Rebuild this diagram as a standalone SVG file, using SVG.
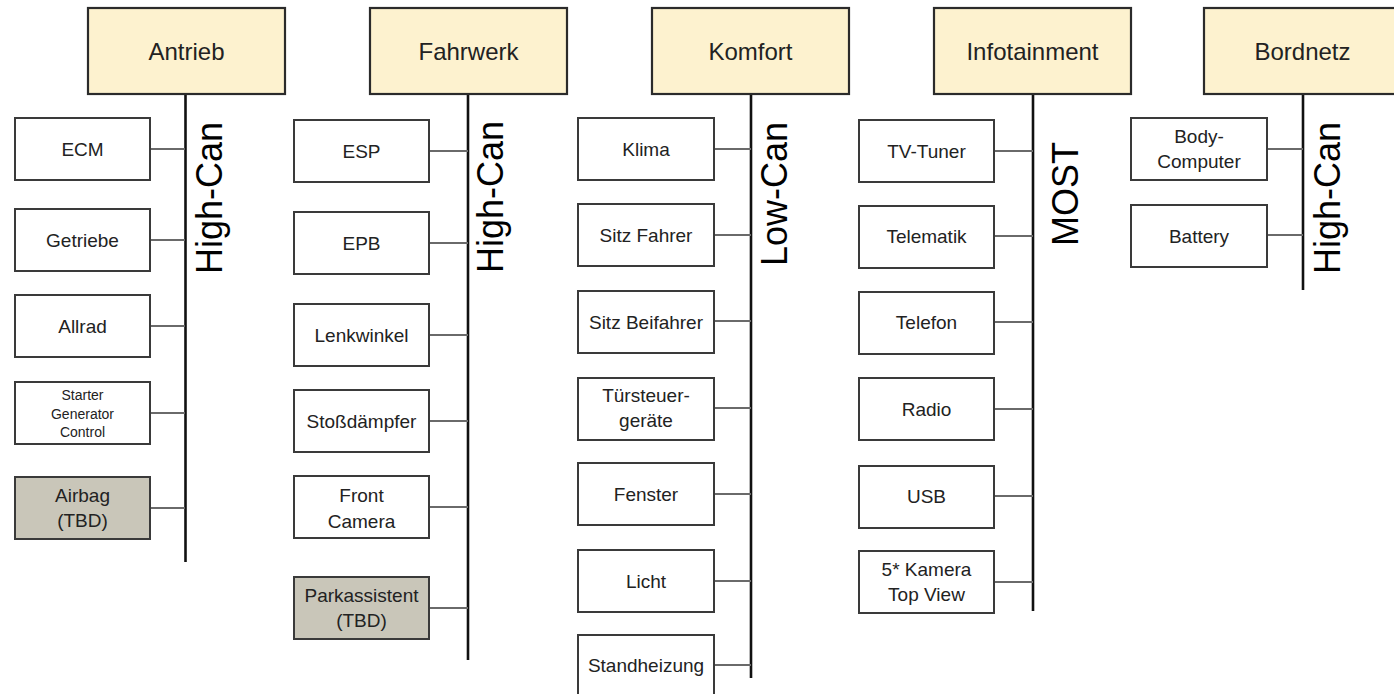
<svg xmlns="http://www.w3.org/2000/svg" width="1394" height="694" viewBox="0 0 1394 694">
<style>
.hdr{fill:#fdf2cf;stroke:#2b2b2b;stroke-width:2.2}
.nd{fill:#ffffff;stroke:#3a3a3a;stroke-width:2}
.tbd{fill:#c9c6b9;stroke:#3a3a3a;stroke-width:2}
.bus{stroke:#111;stroke-width:2.6;fill:none}
.con{stroke:#6a6a6a;stroke-width:2;fill:none}
text{font-family:"Liberation Sans",Arial,sans-serif;fill:#222;text-anchor:middle}
.ht{font-size:24px}
.nt{font-size:19px}
.st{font-size:14px}
.bl{font-size:36px;fill:#000}
</style>
<rect width="1394" height="694" fill="#ffffff"/>

<g id="connectors">
  <line class="bus" x1="185.5" y1="94" x2="185.5" y2="562"/>
  <line class="bus" x1="468" y1="94" x2="468" y2="660"/>
  <line class="bus" x1="751" y1="94" x2="751" y2="678"/>
  <line class="bus" x1="1033" y1="94" x2="1033" y2="611"/>
  <line class="bus" x1="1303" y1="94" x2="1303" y2="290"/>
  <!-- col1 -->
  <line class="con" x1="150" y1="149" x2="185" y2="149"/>
  <line class="con" x1="150" y1="240" x2="185" y2="240"/>
  <line class="con" x1="150" y1="326" x2="185" y2="326"/>
  <line class="con" x1="150" y1="413" x2="185" y2="413"/>
  <line class="con" x1="150" y1="508" x2="185" y2="508"/>
  <!-- col2 -->
  <line class="con" x1="429" y1="151" x2="468" y2="151"/>
  <line class="con" x1="429" y1="243" x2="468" y2="243"/>
  <line class="con" x1="429" y1="335" x2="468" y2="335"/>
  <line class="con" x1="429" y1="421" x2="468" y2="421"/>
  <line class="con" x1="429" y1="507" x2="468" y2="507"/>
  <line class="con" x1="429" y1="608" x2="468" y2="608"/>
  <!-- col3 -->
  <line class="con" x1="714" y1="149" x2="751" y2="149"/>
  <line class="con" x1="714" y1="235" x2="751" y2="235"/>
  <line class="con" x1="714" y1="321" x2="751" y2="321"/>
  <line class="con" x1="714" y1="408" x2="751" y2="408"/>
  <line class="con" x1="714" y1="494" x2="751" y2="494"/>
  <line class="con" x1="714" y1="581" x2="751" y2="581"/>
  <line class="con" x1="714" y1="665" x2="751" y2="665"/>
  <!-- col4 -->
  <line class="con" x1="994" y1="151" x2="1033" y2="151"/>
  <line class="con" x1="994" y1="236" x2="1033" y2="236"/>
  <line class="con" x1="994" y1="322" x2="1033" y2="322"/>
  <line class="con" x1="994" y1="409" x2="1033" y2="409"/>
  <line class="con" x1="994" y1="496" x2="1033" y2="496"/>
  <line class="con" x1="994" y1="582" x2="1033" y2="582"/>
  <!-- col5 -->
  <line class="con" x1="1267" y1="149" x2="1303" y2="149"/>
  <line class="con" x1="1267" y1="235" x2="1303" y2="235"/>
</g>

<g id="bus-labels">
  <text class="bl" transform="translate(222,198) rotate(-90)">High-Can</text>
  <text class="bl" transform="translate(503,197) rotate(-90)">High-Can</text>
  <text class="bl" transform="translate(787,194) rotate(-90)">Low-Can</text>
  <text class="bl" transform="translate(1078,194) rotate(-90)">MOST</text>
  <text class="bl" transform="translate(1340,198) rotate(-90)">High-Can</text>
</g>

<!-- headers -->
<g id="h-antrieb"><rect class="hdr" x="88" y="8" width="197" height="86"/><text class="ht" x="186.5" y="60">Antrieb</text></g>
<g id="h-fahrwerk"><rect class="hdr" x="370" y="8" width="197" height="86"/><text class="ht" x="468.5" y="60">Fahrwerk</text></g>
<g id="h-komfort"><rect class="hdr" x="652" y="8" width="197" height="86"/><text class="ht" x="750.5" y="60">Komfort</text></g>
<g id="h-infotainment"><rect class="hdr" x="934" y="8" width="197" height="86"/><text class="ht" x="1032.5" y="60">Infotainment</text></g>
<g id="h-bordnetz"><rect class="hdr" x="1204" y="8" width="197" height="86"/><text class="ht" x="1302.5" y="60">Bordnetz</text></g>

<!-- column 1 -->
<g id="n-ecm"><rect class="nd" x="15" y="118" width="135" height="62"/><text class="nt" x="82.5" y="156">ECM</text></g>
<g id="n-getriebe"><rect class="nd" x="15" y="209" width="135" height="62"/><text class="nt" x="82.5" y="247">Getriebe</text></g>
<g id="n-allrad"><rect class="nd" x="15" y="295" width="135" height="62"/><text class="nt" x="82.5" y="333">Allrad</text></g>
<g id="n-starter"><rect class="nd" x="15" y="382" width="135" height="62"/><text class="st" x="82.5" y="400">Starter</text><text class="st" x="82.5" y="418.5">Generator</text><text class="st" x="82.5" y="437">Control</text></g>
<g id="n-airbag"><rect class="tbd" x="15" y="477" width="135" height="62"/><text class="nt" x="82.5" y="502">Airbag</text><text class="nt" x="82.5" y="527">(TBD)</text></g>

<!-- column 2 -->
<g id="n-esp"><rect class="nd" x="294" y="120" width="135" height="62"/><text class="nt" x="361.5" y="158">ESP</text></g>
<g id="n-epb"><rect class="nd" x="294" y="212" width="135" height="62"/><text class="nt" x="361.5" y="250">EPB</text></g>
<g id="n-lenkwinkel"><rect class="nd" x="294" y="304" width="135" height="62"/><text class="nt" x="361.5" y="342">Lenkwinkel</text></g>
<g id="n-stossdaempfer"><rect class="nd" x="294" y="390" width="135" height="62"/><text class="nt" x="361.5" y="428">Stoßdämpfer</text></g>
<g id="n-frontcamera"><rect class="nd" x="294" y="476" width="135" height="62"/><text class="nt" x="361.5" y="502">Front</text><text class="nt" x="361.5" y="528">Camera</text></g>
<g id="n-parkassistent"><rect class="tbd" x="294" y="577" width="135" height="62"/><text class="nt" x="361.5" y="602">Parkassistent</text><text class="nt" x="361.5" y="627">(TBD)</text></g>

<!-- column 3 -->
<g id="n-klima"><rect class="nd" x="578" y="118" width="136" height="62"/><text class="nt" x="646" y="156">Klima</text></g>
<g id="n-sitzfahrer"><rect class="nd" x="578" y="204" width="136" height="62"/><text class="nt" x="646" y="242">Sitz Fahrer</text></g>
<g id="n-sitzbeifahrer"><rect class="nd" x="578" y="291" width="136" height="62"/><text class="nt" x="646" y="329">Sitz Beifahrer</text></g>
<g id="n-tuersteuer"><rect class="nd" x="578" y="378" width="136" height="62"/><text class="nt" x="646" y="402">Türsteuer-</text><text class="nt" x="646" y="427">geräte</text></g>
<g id="n-fenster"><rect class="nd" x="578" y="463" width="136" height="62"/><text class="nt" x="646" y="501">Fenster</text></g>
<g id="n-licht"><rect class="nd" x="578" y="550" width="136" height="62"/><text class="nt" x="646" y="588">Licht</text></g>
<g id="n-standheizung"><rect class="nd" x="578" y="635" width="136" height="62"/><text class="nt" x="646" y="672">Standheizung</text></g>

<!-- column 4 -->
<g id="n-tvtuner"><rect class="nd" x="859" y="120" width="135" height="62"/><text class="nt" x="926.5" y="158">TV-Tuner</text></g>
<g id="n-telematik"><rect class="nd" x="859" y="206" width="135" height="62"/><text class="nt" x="926.5" y="243">Telematik</text></g>
<g id="n-telefon"><rect class="nd" x="859" y="292" width="135" height="62"/><text class="nt" x="926.5" y="329">Telefon</text></g>
<g id="n-radio"><rect class="nd" x="859" y="378" width="135" height="62"/><text class="nt" x="926.5" y="416">Radio</text></g>
<g id="n-usb"><rect class="nd" x="859" y="466" width="135" height="62"/><text class="nt" x="926.5" y="503">USB</text></g>
<g id="n-kamera"><rect class="nd" x="859" y="551" width="135" height="62"/><text class="nt" x="926.5" y="576">5* Kamera</text><text class="nt" x="926.5" y="601">Top View</text></g>

<!-- column 5 -->
<g id="n-bodycomputer"><rect class="nd" x="1131" y="118" width="136" height="62"/><text class="nt" x="1199" y="143">Body-</text><text class="nt" x="1199" y="168">Computer</text></g>
<g id="n-battery"><rect class="nd" x="1131" y="205" width="136" height="62"/><text class="nt" x="1199" y="243">Battery</text></g>
</svg>
